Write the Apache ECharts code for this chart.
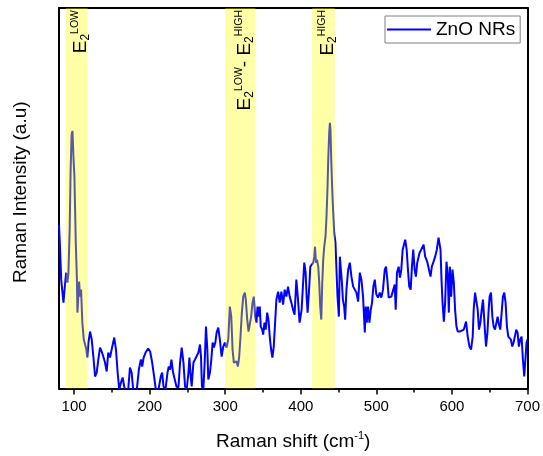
<!DOCTYPE html>
<html>
<head>
<meta charset="utf-8">
<script src="https://cdn.jsdelivr.net/npm/echarts@6/dist/echarts.min.js"></script>
<style>
  html, body { margin: 0; padding: 0; background: #fff; }
  #chart { width: 543px; height: 456px; }
</style>
</head>
<body>
<div id="chart"></div>
<script>
// Raman spectrum of ZnO nanorods (shift in cm^-1, intensity in arbitrary units)
const ramanShift = [
  80, 81.1, 82.9, 85.9, 89.4, 91.2, 92.5, 94.1, 95.4, 96.7, 97.8, 99.3, 100.4, 101.3, 102.2, 103.6, 104.4,
  106.6, 107.9, 109.2, 110.9, 112.8, 114.5, 116.2, 117.5, 118.9, 121.1, 123.3, 125.5, 127.7, 129.9, 132,
  134.3, 136.5, 138.6, 140.9, 143.1, 145.2, 147.5, 149.7, 153.1, 155.4, 157.6, 159.7, 162, 164.2, 166.3,
  168.2, 171.6, 173.9, 176.1, 178.2, 182.7, 185.7, 188.4, 190.1, 192, 194.6, 198, 200.6, 203.3, 205.9,
  208.1, 211.2, 214.7, 216.5, 218.3, 220.9, 223.6, 225.3, 227, 228.8, 231, 233.2, 235.4, 238.1, 240.2,
  242.4, 244.7, 246.8, 249, 251.3, 252.6, 254.3, 255.6, 257.9, 260, 262.2, 264.5, 266.6, 267.9, 269.2,
  271, 272.8, 274.5, 276.3, 277.6, 279.8, 281.6, 283.3, 285, 286.9, 288.6, 290.8, 292.9, 295.2, 297.4,
  299.5, 301.8, 304, 306.1, 308, 309.7, 311.4, 313.3, 315, 316.7, 318.5, 320.2, 322, 323.8, 325.9, 327.2,
  329.1, 330.8, 332.5, 334.3, 336.1, 337.8, 339.6, 341.3, 342.7, 344, 345.7, 347, 348.9, 350.2, 351.9,
  353.6, 355.5, 357.2, 358.9, 360.7, 362.4, 364.2, 366, 367.7, 370, 372.1, 374.3, 376.6, 378.7, 380.9,
  383.1, 385.3, 387.5, 389.7, 391.8, 394.1, 396.3, 398.4, 401.1, 403.3, 404.6, 406.4, 407.7, 409, 411.2,
  412.6, 414.3, 416.5, 417.8, 418.8, 420.1, 421.4, 423.1, 424.4, 425.7, 427.1, 428.4, 429.7, 431, 432.7,
  434, 435.4, 436.3, 437.6, 438.5, 439.3, 440.3, 441.6, 442.9, 444.2, 445.9, 447.2, 448.6, 450.4, 451.7,
  453, 454.4, 455.7, 457.4, 458.7, 460.4, 462.7, 464.9, 467, 469.3, 471.5, 473.6, 475.9, 478.1, 480.2,
  482.4, 484.7, 486, 487.3, 489, 490.8, 492.6, 494.3, 496, 497.9, 500, 502.2, 504.5, 506.6, 508.8, 511.1,
  512.8, 514.5, 516.3, 518.1, 519.8, 522, 524.3, 525.6, 527.3, 529.5, 531.2, 533, 534.8, 536.5, 538.2,
  540.1, 541.8, 543.5, 545.4, 547.1, 548.8, 550.6, 552.3, 554.1, 557.2, 559.3, 562.5, 564.6, 567.3, 569.5,
  571.7, 573.4, 575.7, 577.8, 580, 582.3, 583.6, 584.9, 586.2, 587.6, 589.3, 591, 592.8, 594.6, 595.9,
  597.2, 599, 600.7, 602.5, 604.2, 606, 607.7, 610.4, 613, 615.7, 618.7, 620.9, 623.2, 625.3, 627.5,
  628.8, 630.6, 632.4, 634.1, 635.8, 637.7, 639.4, 641.1, 643, 645.1, 647, 648.6, 649.9, 651.7, 653.5,
  655.2, 657, 658.9, 660.5, 662.2, 664, 665.8, 667.5, 669.3, 671, 672.8, 674.6, 676.3, 678, 679.9, 681.6,
  683.3, 685.1, 686.9, 688.6, 690.4, 692.2, 693.9, 695.7, 697.5, 698.7, 700
];
const intensity = [
  164, 146, 109, 86, 116, 106, 116, 159, 219, 254, 258, 229, 212, 179, 146, 112, 76,
  107, 92, 99, 66, 49, 51, 39, 31, 46, 57, 49, 32, 12, 16, 29,
  41, 37, 32, 26, 17, 36, 31, 39, 51, 39, 16, -1, 6, 11, 2,
  -4, -1, 21, 16, -1, -3, 19, 29, 22, 31, 36, 40, 37, 26, 12,
  -1, -3, 12, 16, 2, -1, 16, 22, 19, 29, 16, 9, 2, 1, 26,
  41, 26, 2, -1, 16, 31, 12, 2, 26, 29, 31, 36, 44, 32, 2,
  -1, 26, 62, 39, 9, 16, 29, 46, 41, 46, 56, 61, 49, 32, 42,
  46, 41, 49, 82, 72, 39, 26, 24, 27, 22, 32, 52, 76, 92, 96, 89,
  69, 57, 59, 72, 86, 92, 72, 66, 82, 72, 82, 62, 59, 54, 66,
  59, 76, 69, 52, 39, 31, 42, 66, 89, 97, 86, 97, 84, 99, 92,
  102, 92, 86, 79, 74, 109, 89, 66, 79, 109, 126, 116, 92, 76, 102,
  122, 124, 126, 132, 142, 126, 129, 122, 106, 82, 69, 106, 129, 142, 152,
  172, 202, 229, 256, 266, 259, 229, 199, 176, 156, 146, 119, 92, 72, 132,
  132, 106, 89, 82, 69, 99, 119, 126, 112, 102, 99, 96, 87, 116, 109,
  92, 56, 82, 66, 82, 66, 79, 86, 102, 109, 94, 91, 96, 91, 99, 119,
  122, 109, 91, 89, 92, 94, 104, 79, 116, 122, 111, 119, 139, 144, 149,
  139, 119, 102, 99, 122, 139, 119, 112, 126, 136, 139, 144, 132, 127, 126,
  112, 122, 127, 132, 139, 151, 152, 139, 109, 86, 67, 86, 127, 112, 76,
  122, 92, 119, 106, 79, 62, 57, 57, 56, 59, 67, 52, 42, 39, 52,
  79, 96, 96, 79, 59, 66, 79, 89, 66, 42, 56, 79, 92, 96, 72,
  62, 59, 57, 72, 64, 59, 76, 92, 96, 86, 62, 52, 52, 49, 42, 46,
  52, 59, 56, 42, 49, 52, 29, 12, 32, 46, 49
];
const seriesName = 'ZnO NRs';

// Axis ticks
const xMajorTicks = [100, 200, 300, 400, 500, 600, 700];
const xMinorTicks = [150, 250, 350, 450, 550, 650];

// Highlighted phonon-mode bands and their labels
const bandRanges = [[89, 118], [300, 340], [415, 445]];
const bandLabels = [
  '{e|E}{sub|2}{sup|LOW}',
  '{e|E}{sub|2}{sup|LOW}{e|- E}{sub|2}{sup|HIGH}',
  '{e|E}{sub|2}{sup|HIGH}'
];

const FONT = '"Liberation Sans", Arial, Helvetica, sans-serif';
const points = ramanShift.map((x, i) => [x, intensity[i]]);

const bandRich = {
  e:   { fontSize: 19, lineHeight: 22, fontFamily: FONT, color: '#000', verticalAlign: 'middle' },
  sub: { fontSize: 12, lineHeight: 8,  fontFamily: FONT, color: '#000', verticalAlign: 'bottom' },
  sup: { fontSize: 10.5, lineHeight: 12, fontFamily: FONT, color: '#000', verticalAlign: 'top' }
};

// Plain frame axis (top / right edges of the plot box)
const frameAxis = {
  axisLine: { show: true, lineStyle: { color: '#000', width: 2 } },
  axisTick: { show: false },
  axisLabel: { show: false },
  splitLine: { show: false }
};

const chart = echarts.init(document.getElementById('chart'), null, { renderer: 'canvas' });

chart.setOption({
  animation: false,
  backgroundColor: '#fff',
  textStyle: { fontFamily: FONT },
  grid: { left: 59, right: 12, top: 8, bottom: 67 },
  legend: {
    data: [seriesName],
    left: 385, top: 16,
    padding: [3, 5, 3, 2],
    itemWidth: 44, itemHeight: 2,
    icon: 'rect',
    borderColor: '#7f7f7f', borderWidth: 1,
    textStyle: { fontSize: 19, lineHeight: 21, color: '#000', fontFamily: FONT }
  },
  xAxis: [
    {
      type: 'value', min: 80, max: 700,
      name: '{a|Raman shift (cm}{s|-1}{a|)}',
      nameLocation: 'middle', nameGap: 42,
      nameTextStyle: {
        rich: {
          a: { fontSize: 19, lineHeight: 22, color: '#000', fontFamily: FONT, verticalAlign: 'middle' },
          s: { fontSize: 11, lineHeight: 12, color: '#000', fontFamily: FONT, verticalAlign: 'top' }
        }
      },
      axisLine: { show: true, lineStyle: { color: '#000', width: 2 } },
      axisTick: { show: true, customValues: xMajorTicks, length: 6, lineStyle: { color: '#000', width: 1.5 } },
      axisLabel: { show: true, customValues: xMajorTicks, fontSize: 15, color: '#000', margin: 11, fontFamily: FONT },
      splitLine: { show: false }
    },
    Object.assign({ type: 'value', min: 80, max: 700, position: 'bottom' }, {
      axisLine: { show: false },
      axisTick: { show: true, customValues: xMinorTicks, length: 4, lineStyle: { color: '#000', width: 1.5 } },
      axisLabel: { show: false },
      splitLine: { show: false }
    }),
    Object.assign({ type: 'value', min: 80, max: 700, position: 'top' }, frameAxis)
  ],
  yAxis: [
    {
      type: 'value', min: 0, max: 381,
      name: 'Raman Intensity (a.u)',
      nameLocation: 'middle', nameGap: 29,
      nameTextStyle: { fontSize: 19, color: '#000', fontFamily: FONT, padding: [0, 0, 0, 12] },
      axisLine: { show: true, lineStyle: { color: '#000', width: 2 } },
      axisTick: { show: false },
      axisLabel: { show: false },
      splitLine: { show: false }
    },
    Object.assign({ type: 'value', min: 0, max: 381, position: 'right' }, frameAxis)
  ],
  series: [
    {
      name: seriesName,
      type: 'line',
      xAxisIndex: 0,
      yAxisIndex: 0,
      data: points,
      showSymbol: false,
      symbol: 'none',
      clip: true,
      z: 2,
      lineStyle: { color: '#0000ff', width: 2 },
      itemStyle: { color: '#0000ff' },
      markArea: {
        silent: true,
        z: 3,
        itemStyle: { color: 'rgba(255, 255, 0, 0.34)', borderWidth: 0 },
        label: {
          show: true,
          position: 'insideTop',
          rotate: 90,
          align: 'right',
          verticalAlign: 'bottom',
          distance: 2,
          offset: [0, 15],
          rich: bandRich
        },
        data: bandRanges.map((r, i) => [
          { xAxis: r[0], label: { formatter: bandLabels[i] } },
          { xAxis: r[1] }
        ])
      }
    }
  ]
});
</script>
</body>
</html>
